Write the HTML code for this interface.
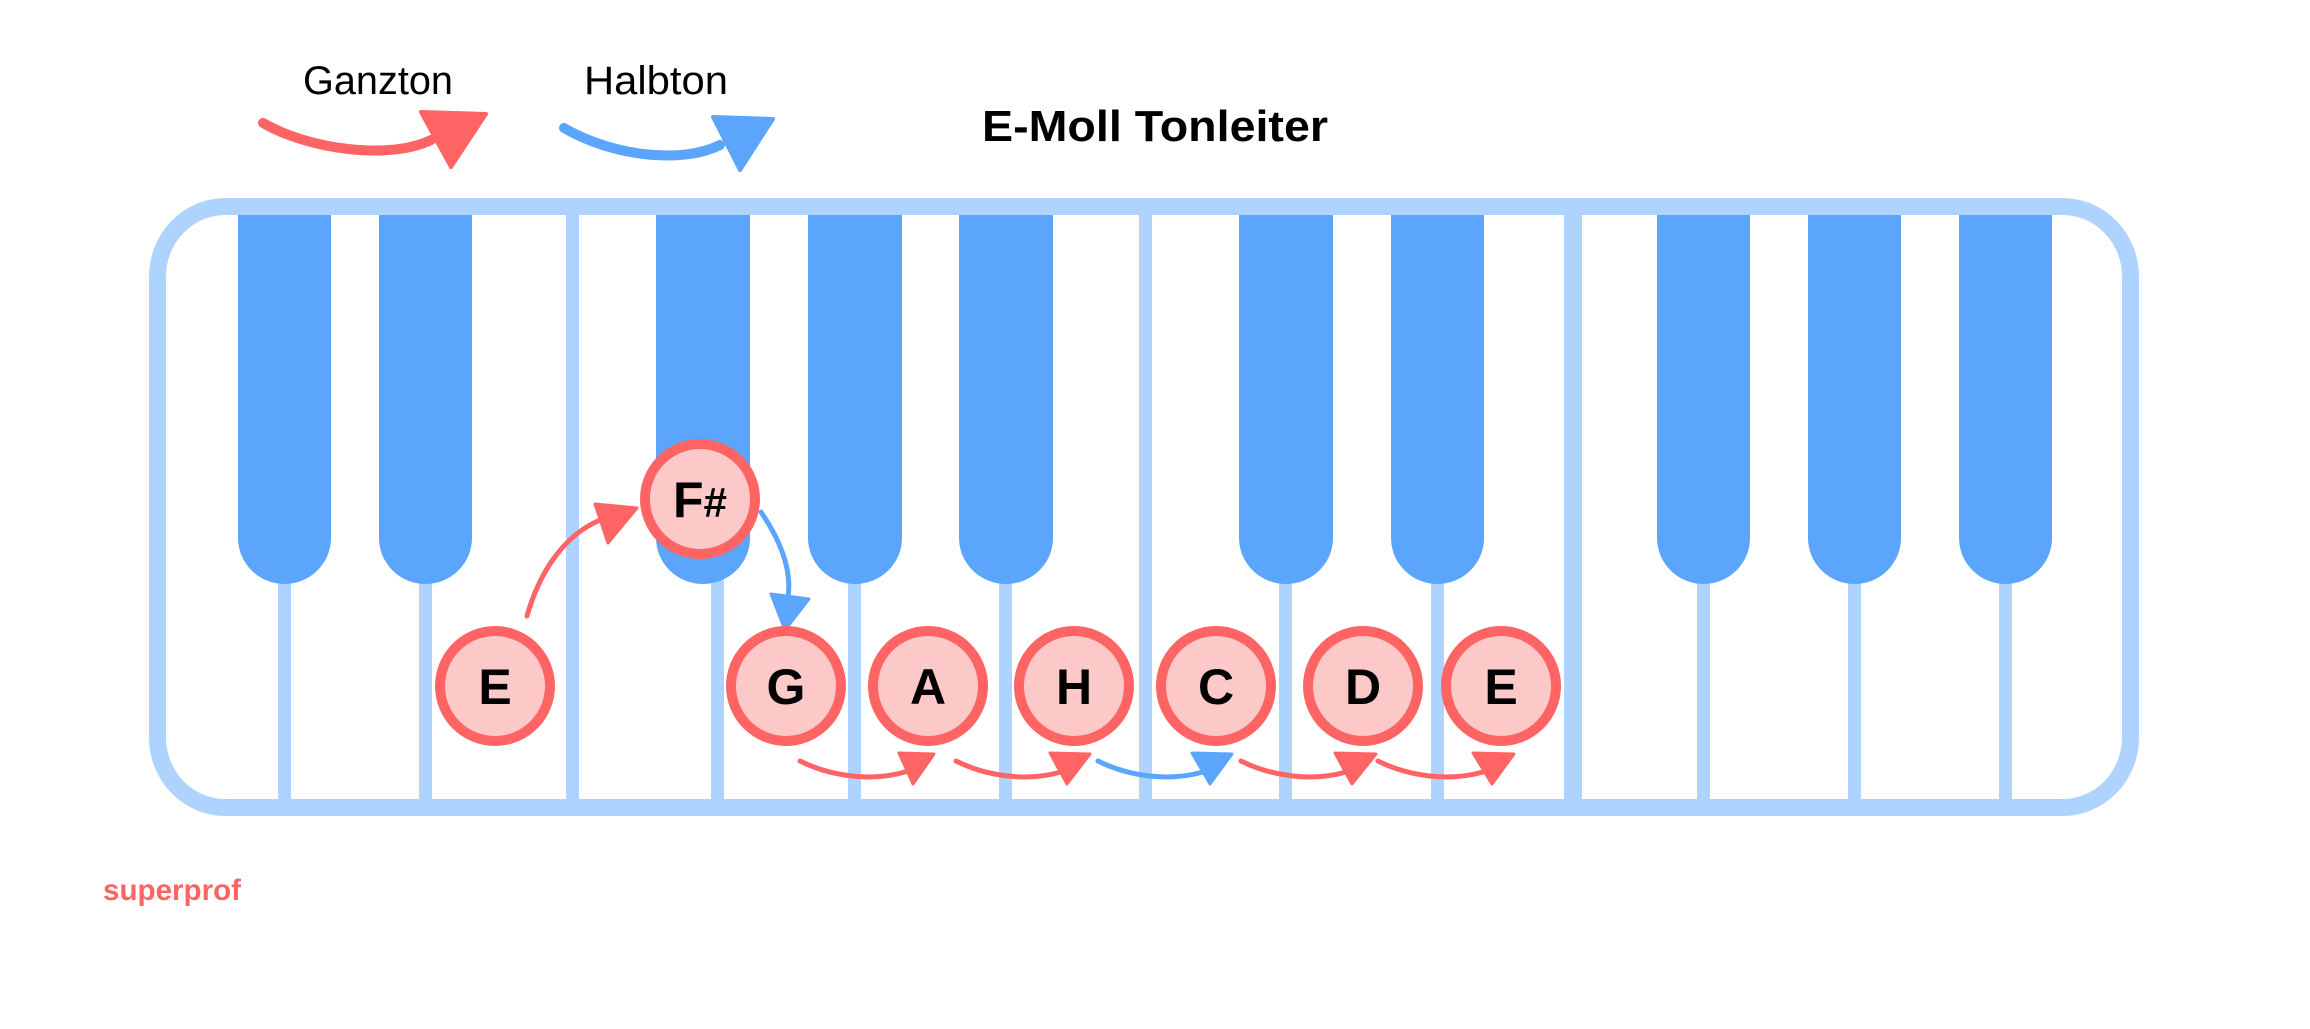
<!DOCTYPE html>
<html><head><meta charset="utf-8"><style>html,body{margin:0;padding:0;background:#fff}svg{display:block}</style></head>
<body>
<svg width="2310" height="1029" viewBox="0 0 2310 1029" xmlns="http://www.w3.org/2000/svg">
<rect width="2310" height="1029" fill="#fff"/>
<rect x="157.5" y="206.5" width="1973" height="601" rx="68" ry="70" fill="#fff" stroke="#AED3FE" stroke-width="17"/>
<g fill="#AED3FE">
<rect x="566" y="210" width="13" height="594"/>
<rect x="1139" y="210" width="13" height="594"/>
<rect x="1564" y="210" width="18" height="594"/>
</g>
<g fill="#AED3FE">
<rect x="278" y="570" width="13" height="234"/>
<rect x="419" y="570" width="13" height="234"/>
<rect x="711" y="570" width="13" height="234"/>
<rect x="848" y="570" width="13" height="234"/>
<rect x="999" y="570" width="13" height="234"/>
<rect x="1279" y="570" width="13" height="234"/>
<rect x="1431" y="570" width="13" height="234"/>
<rect x="1697" y="570" width="13" height="234"/>
<rect x="1848" y="570" width="13" height="234"/>
<rect x="1999" y="570" width="13" height="234"/>
</g>
<g fill="#5BA5FC">
<path d="M238 215 H331 V538 A46.5 46 0 0 1 238 538 Z"/>
<path d="M379 215 H472 V538 A46.5 46 0 0 1 379 538 Z"/>
<path d="M656 215 H750 V538 A47 46 0 0 1 656 538 Z"/>
<path d="M808 215 H902 V538 A47 46 0 0 1 808 538 Z"/>
<path d="M959 215 H1053 V538 A47 46 0 0 1 959 538 Z"/>
<path d="M1239 215 H1333 V538 A47 46 0 0 1 1239 538 Z"/>
<path d="M1391 215 H1484 V538 A46.5 46 0 0 1 1391 538 Z"/>
<path d="M1657 215 H1750 V538 A46.5 46 0 0 1 1657 538 Z"/>
<path d="M1808 215 H1901 V538 A46.5 46 0 0 1 1808 538 Z"/>
<path d="M1959 215 H2052 V538 A46.5 46 0 0 1 1959 538 Z"/>
</g>
<g font-family="Liberation Sans, sans-serif" fill="#000">
<text x="303" y="94" font-size="40" textLength="150" lengthAdjust="spacingAndGlyphs">Ganzton</text>
<text x="584" y="94" font-size="40" textLength="144" lengthAdjust="spacingAndGlyphs">Halbton</text>
<text x="982" y="141" font-size="44" font-weight="bold" textLength="346" lengthAdjust="spacingAndGlyphs">E-Moll Tonleiter</text>
<text x="103" y="900" font-size="30" font-weight="bold" fill="#FF6464" textLength="138" lengthAdjust="spacingAndGlyphs">superprof</text>
</g>
<path d="M263 123 C310 150 390 160 431 140" fill="none" stroke="#FF6464" stroke-width="10" stroke-linecap="round"/>
<path d="M421 112 L486 114 L451 167 Z" fill="#FF6464" stroke="#FF6464" stroke-width="4" stroke-linejoin="round"/>
<path d="M564 128 C610 155 680 165 720 145" fill="none" stroke="#5BA5FC" stroke-width="10" stroke-linecap="round"/>
<path d="M713 117 L773 119 L740 170 Z" fill="#5BA5FC" stroke="#5BA5FC" stroke-width="4" stroke-linejoin="round"/>
<g fill="none" stroke-width="5" stroke-linecap="round">
<path d="M527 616 C540 570 565 535 600 520" stroke="#FF6464"/>
<path d="M761 512 C780 540 792 570 788 597" stroke="#5BA5FC"/>
<path d="M800 761 C830 776 870 782 905 772" stroke="#FF6464"/>
<path d="M956 761 C986 776 1026 782 1061 772" stroke="#FF6464"/>
<path d="M1098 761 C1128 776 1168 782 1203 772" stroke="#5BA5FC"/>
<path d="M1241 761 C1271 776 1311 782 1346 772" stroke="#FF6464"/>
<path d="M1378 761 C1408 776 1448 782 1483 772" stroke="#FF6464"/>
</g>
<g stroke-linejoin="round" stroke-width="3">
<path d="M595 504 L637 508 L608 543 Z" fill="#FF6464" stroke="#FF6464"/>
<path d="M771 594 L809 599 L785 630 Z" fill="#5BA5FC" stroke="#5BA5FC"/>
<path d="M899 753 L934 754 L913 784 Z" fill="#FF6464" stroke="#FF6464"/>
<path d="M1050 753 L1090 754 L1067 784 Z" fill="#FF6464" stroke="#FF6464"/>
<path d="M1192 753 L1232 754 L1210 784 Z" fill="#5BA5FC" stroke="#5BA5FC"/>
<path d="M1335 753 L1376 754 L1352 784 Z" fill="#FF6464" stroke="#FF6464"/>
<path d="M1473 753 L1514 754 L1492 784 Z" fill="#FF6464" stroke="#FF6464"/>
</g>
<g fill="#FDC8C8" stroke="#FF6464" stroke-width="10">
<circle cx="495" cy="686" r="55"/>
<circle cx="700" cy="499" r="55"/>
<circle cx="786" cy="686" r="55"/>
<circle cx="928" cy="686" r="55"/>
<circle cx="1074" cy="686" r="55"/>
<circle cx="1216" cy="686" r="55"/>
<circle cx="1363" cy="686" r="55"/>
<circle cx="1501" cy="686" r="55"/>
</g>
<g font-family="Liberation Sans, sans-serif" font-weight="bold" font-size="50" text-anchor="middle" fill="#000">
<text x="495" y="704">E</text>
<text x="700" y="517">F<tspan font-size="42">#</tspan></text>
<text x="786" y="704">G</text>
<text x="928" y="704">A</text>
<text x="1074" y="704">H</text>
<text x="1216" y="704">C</text>
<text x="1363" y="704">D</text>
<text x="1501" y="704">E</text>
</g>
</svg>
</body></html>
